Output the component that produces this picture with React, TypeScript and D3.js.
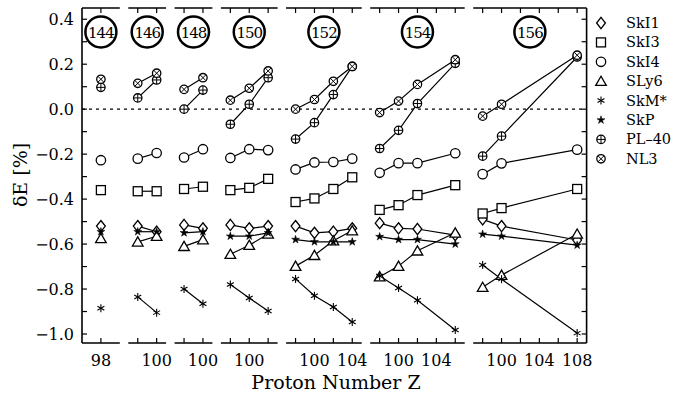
import { useEffect, useRef } from "react";
import * as d3 from "d3";

// one panel per neutron number N, x = proton number Z
const neutronNumbers = [144, 146, 148, 150, 152, 154, 156];
const zDomains = [[96, 100], [97, 101], [97, 101], [97, 103], [97, 105], [97, 107], [97, 109]];
const zValues = [[98], [98, 100], [98, 100], [98, 100, 102], [98, 100, 102, 104], [98, 100, 102, 106], [98, 100, 108]];
const zTickLabels = [[98], [100], [100], [100], [100, 104], [100, 104], [100, 104, 108]];
const yTickLabels = [0.4, 0.2, 0.0, -0.2, -0.4, -0.6, -0.8, -1.0];

const seriesNames = ["SkI1", "SkI3", "SkI4", "SLy6", "SkM*", "SkP", "PL–40", "NL3"];
const seriesSymbols = ["diamond", "square", "circle", "triangle", "asterisk", "star", "oplus", "otimes"];

// δE [%] per panel
const skI1 = [[-0.52], [-0.52, -0.545], [-0.515, -0.53], [-0.515, -0.53, -0.52], [-0.52, -0.55, -0.545, -0.53], [-0.507, -0.53, -0.533, -0.56], [-0.49, -0.52, -0.582]];
const skI3 = [[-0.36], [-0.365, -0.365], [-0.355, -0.345], [-0.36, -0.35, -0.31], [-0.413, -0.397, -0.355, -0.303], [-0.448, -0.427, -0.382, -0.338], [-0.464, -0.44, -0.355]];
const skI4 = [[-0.227], [-0.22, -0.195], [-0.215, -0.178], [-0.217, -0.178, -0.182], [-0.268, -0.237, -0.235, -0.22], [-0.283, -0.24, -0.24, -0.196], [-0.289, -0.241, -0.18]];
const sLy6 = [[-0.575], [-0.59, -0.565], [-0.61, -0.58], [-0.645, -0.605, -0.555], [-0.698, -0.65, -0.585, -0.54], [-0.745, -0.698, -0.63, -0.55], [-0.792, -0.738, -0.555]];
const skMStar = [[-0.885], [-0.835, -0.905], [-0.8, -0.865], [-0.78, -0.84, -0.898], [-0.755, -0.83, -0.88, -0.947], [-0.742, -0.795, -0.85, -0.982], [-0.693, -0.756, -0.996]];
const skP = [[-0.545], [-0.545, -0.545], [-0.55, -0.545], [-0.565, -0.565, -0.55], [-0.58, -0.59, -0.59, -0.59], [-0.567, -0.58, -0.58, -0.6], [-0.556, -0.565, -0.605]];
const pl40 = [[0.097], [0.05, 0.13], [0.0, 0.085], [-0.067, 0.022, 0.14], [-0.133, -0.06, 0.065, 0.19], [-0.175, -0.094, 0.025, 0.204], [-0.209, -0.12, 0.232]];
const nl3 = [[0.133], [0.115, 0.16], [0.088, 0.14], [0.04, 0.093, 0.17], [0.0, 0.043, 0.124, 0.19], [-0.015, 0.036, 0.11, 0.22], [-0.031, 0.022, 0.24]];

const seriesValues = [skI1, skI3, skI4, sLy6, skMStar, skP, pl40, nl3];

const FONT = "'DejaVu Serif', 'Liberation Serif', serif";

function drawSymbol(g: any, type: string, cx: number, cy: number) {
  const s = g.append("g").attr("transform", `translate(${cx},${cy})`)
    .attr("stroke", "#000").attr("fill", "#fff").attr("stroke-width", 1.3);
  if (type === "diamond") {
    s.append("path").attr("d", "M0,-5.6L4.4,0L0,5.6L-4.4,0Z");
  } else if (type === "square") {
    s.append("rect").attr("x", -4.5).attr("y", -4.5).attr("width", 9).attr("height", 9);
  } else if (type === "circle") {
    s.append("circle").attr("r", 4.7);
  } else if (type === "triangle") {
    s.append("path").attr("d", "M0,-5L5.3,4.2L-5.3,4.2Z");
  } else if (type === "asterisk") {
    [90, 30, 150].forEach(a => {
      const r = 4, t = (a * Math.PI) / 180;
      s.append("line").attr("x1", -r * Math.cos(t)).attr("y1", -r * Math.sin(t))
        .attr("x2", r * Math.cos(t)).attr("y2", r * Math.sin(t)).attr("stroke-width", 1.1);
    });
  } else if (type === "star") {
    s.append("path").attr("d", d3.symbol(d3.symbolStar, 20)()).attr("fill", "#000").attr("stroke-width", 0.5);
  } else if (type === "oplus" || type === "otimes") {
    const r = 4.2;
    s.append("circle").attr("r", r);
    const d = type === "oplus" ? r : r * Math.SQRT1_2;
    if (type === "oplus") {
      s.append("line").attr("x1", -d).attr("x2", d).attr("y1", 0).attr("y2", 0).attr("stroke-width", 1);
      s.append("line").attr("y1", -d).attr("y2", d).attr("x1", 0).attr("x2", 0).attr("stroke-width", 1);
    } else {
      s.append("line").attr("x1", -d).attr("y1", -d).attr("x2", d).attr("y2", d).attr("stroke-width", 1);
      s.append("line").attr("x1", -d).attr("y1", d).attr("x2", d).attr("y2", -d).attr("stroke-width", 1);
    }
  }
}

export default function App() {
  const svgRef = useRef<SVGSVGElement>(null);

  useEffect(() => {
    const width = 674;
    const height = 394;
    const left = 82, top = 8, bottom = 343;
    const unit = 9.45, gap = 8.5;

    const svg = d3.select(svgRef.current);
    svg.selectAll("*").remove();
    svg.attr("viewBox", `0 0 ${width} ${height}`);
    svg.append("rect").attr("width", width).attr("height", height).attr("fill", "#fff");

    const y = d3.scaleLinear().domain([-1.04, 0.45]).range([bottom, top]);

    // panel x scales
    let x0 = left;
    const xs = zDomains.map(dom => {
      const w = (dom[1] - dom[0]) * unit;
      const sc = d3.scaleLinear().domain(dom).range([x0, x0 + w]);
      x0 += w + gap;
      return sc;
    });
    const right = xs[xs.length - 1].range()[1];

    // zero line
    svg.append("line").attr("x1", left).attr("x2", right).attr("y1", y(0)).attr("y2", y(0))
      .attr("stroke", "#000").attr("stroke-width", 1.4).attr("stroke-dasharray", "3,4");

    // left / right axes
    const yMinor = d3.range(-10, 5).map(i => i / 10);
    [left, right].forEach((ax, side) => {
      svg.append("line").attr("x1", ax).attr("x2", ax).attr("y1", top).attr("y2", bottom)
        .attr("stroke", "#000").attr("stroke-width", 1.6);
      svg.selectAll(null).data(yMinor).join("line")
        .attr("x1", ax).attr("x2", side === 0 ? ax + 5 : ax - 5)
        .attr("y1", d => y(d)).attr("y2", d => y(d))
        .attr("stroke", "#000").attr("stroke-width", 1.2);
    });
    svg.selectAll("text.ytick").data(yTickLabels).join("text")
      .attr("class", "ytick")
      .attr("x", left - 8).attr("y", d => y(d) + 5.5)
      .attr("text-anchor", "end").attr("font-family", FONT).attr("font-size", 16)
      .text(d => (d < 0 ? "−" : "") + Math.abs(d).toFixed(1));

    const line = d3.line<[number, number]>();

    xs.forEach((x, p) => {
      const [d0, d1] = x.domain();
      const g = svg.append("g");
      // top and bottom frame
      [top, bottom].forEach(yy => {
        g.append("line").attr("x1", x(d0)).attr("x2", x(d1)).attr("y1", yy).attr("y2", yy)
          .attr("stroke", "#000").attr("stroke-width", 1.6);
      });
      const ticks = d3.range(Math.ceil(d0), Math.floor(d1) + 1).filter(z => z % 2 === 0 && z > d0 && z < d1);
      ticks.forEach(z => {
        g.append("line").attr("x1", x(z)).attr("x2", x(z)).attr("y1", bottom).attr("y2", bottom - 5)
          .attr("stroke", "#000").attr("stroke-width", 1.2);
        g.append("line").attr("x1", x(z)).attr("x2", x(z)).attr("y1", top).attr("y2", top + 5)
          .attr("stroke", "#000").attr("stroke-width", 1.2);
      });
      zTickLabels[p].forEach(z => {
        g.append("text").attr("x", x(z)).attr("y", 366).attr("text-anchor", "middle")
          .attr("font-family", FONT).attr("font-size", 16).text(z);
      });

      // N label circle
      const cx = (x(d0) + x(d1)) / 2;
      g.append("circle").attr("cx", cx).attr("cy", 32).attr("r", 15.5)
        .attr("fill", "#fff").attr("stroke", "#000").attr("stroke-width", 2.5);
      g.append("text").attr("x", cx).attr("y", 37.5).attr("text-anchor", "middle")
        .attr("font-family", FONT).attr("font-size", 15).attr("letter-spacing", -1)
        .text(neutronNumbers[p]);

      // lines then symbols
      seriesValues.forEach(vals => {
        const pts = zValues[p].map((z, i) => [x(z), y(vals[p][i])] as [number, number]);
        if (pts.length > 1) {
          g.append("path").attr("d", line(pts)).attr("fill", "none")
            .attr("stroke", "#000").attr("stroke-width", 1.2);
        }
      });
      seriesValues.forEach((vals, si) => {
        zValues[p].forEach((z, i) => drawSymbol(g, seriesSymbols[si], x(z), y(vals[p][i])));
      });
    });

    // legend
    const lg = svg.append("g");
    seriesNames.forEach((name, i) => {
      const ly = 23 + i * 19.4;
      drawSymbol(lg, seriesSymbols[i], 601, ly);
      lg.append("text").attr("x", 626).attr("y", ly + 5).attr("font-family", FONT)
        .attr("font-size", 14.5).text(name);
    });

    // axis titles
    svg.append("text").attr("x", 336).attr("y", 389).attr("text-anchor", "middle")
      .attr("font-family", FONT).attr("font-size", 19).text("Proton Number Z");
    svg.append("text").attr("transform", "translate(27,175) rotate(-90)")
      .attr("text-anchor", "middle").attr("font-family", FONT).attr("font-size", 19)
      .text("δE [%]");
  }, []);

  return (
    <svg ref={svgRef} width={674} height={394}
      style={{ position: "absolute", left: 0, top: 0, display: "block" }} />
  );
}
